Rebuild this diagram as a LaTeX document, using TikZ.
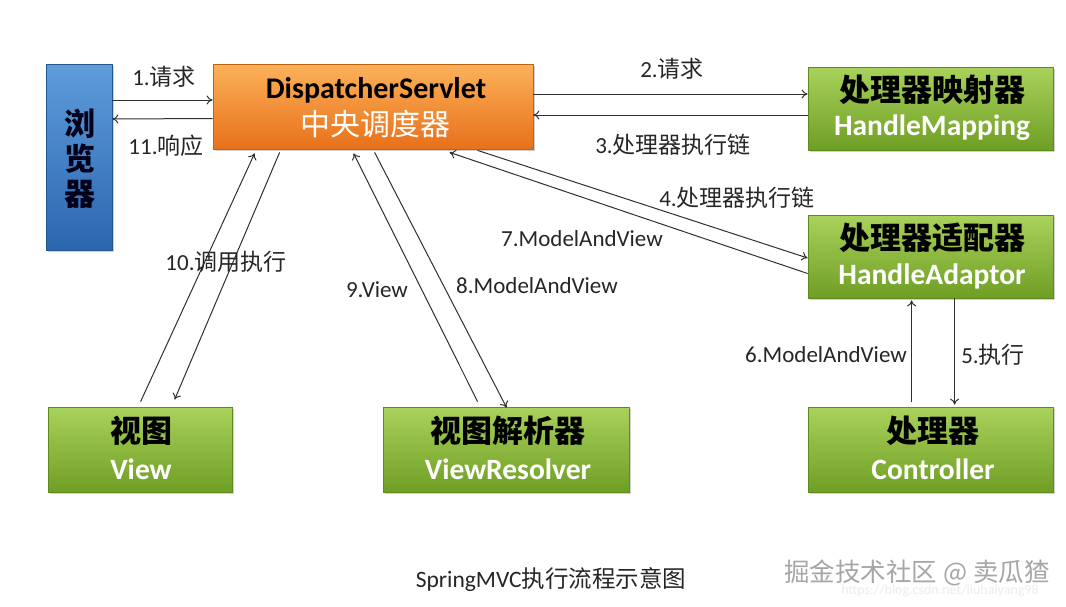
\documentclass[tikz,border=0pt]{standalone}
\usepackage{fontspec}
\setmainfont{Carlito}
\newfontfamily\cjk{Noto Sans CJK SC}
\usetikzlibrary{shadows,calc,arrows.meta}
\definecolor{gtop}{HTML}{A9D25A}
\definecolor{gbot}{HTML}{6F9E24}
\definecolor{gbord}{HTML}{5E8A1E}
\definecolor{otop}{HTML}{FBB25A}
\definecolor{obot}{HTML}{E8701A}
\definecolor{obord}{HTML}{C5600F}
\definecolor{btop}{HTML}{5E9CDB}
\definecolor{bbot}{HTML}{2C66B0}
\definecolor{bbord}{HTML}{23558F}
\definecolor{linec}{HTML}{303030}
\begin{document}
\begin{tikzpicture}[x=1pt,y=-1pt,
  boxbase/.style={rectangle, align=center, inner sep=0pt,
    drop shadow={opacity=0.35, shadow xshift=2pt, shadow yshift=-2pt}},
  greenbox/.style={boxbase, draw=gbord, line width=0.8pt, top color=gtop, bottom color=gbot},
  orangebox/.style={boxbase, draw=obord, line width=0.8pt, top color=otop, bottom color=obot},
  bluebox/.style={boxbase, draw=bbord, line width=0.8pt, top color=btop, bottom color=bbot},
  cn/.style={font=\cjk\bfseries\fontsize{31}{35}\selectfont, text=black},
  en/.style={font=\bfseries\fontsize{29.5}{32}\selectfont, text=white},
  lbl/.style={inner sep=0pt, text=black!85, font=\fontsize{23}{26}\selectfont},
  arr/.style={draw=linec, line width=1pt, -{To[length=6pt,width=9pt]}}
]
\path[fill=white] (0,0) rectangle (1066,606);
\useasboundingbox (0,0) rectangle (1066,606);

% boxes
\node[bluebox, minimum width=66pt, minimum height=186pt] (browser) at (79,157) {};
\node[inner sep=0pt, text=black!90!blue, font=\cjk\bfseries\fontsize{31}{35}\selectfont, align=center] (browsertxt) at (80,159) {浏\\览\\器};

\node[orangebox, minimum width=320pt, minimum height=85pt] (ds) at (373,106.5) {};
\node[inner sep=0pt, font=\bfseries\fontsize{30}{32}\selectfont, text=black] (dst1) at (376,90) {DispatcherServlet};
\node[inner sep=0pt, font=\cjk\fontsize{30}{33}\selectfont, text=white] (dst2) at (375,124) {中央调度器};

\node[greenbox, minimum width=245pt, minimum height=83pt] (hm) at (930.5,108.5) {};
\node[cn, inner sep=0pt] (hmt1) at (932,90) {处理器映射器};
\node[en, inner sep=0pt] (hmt2) at (932,128) {HandleMapping};

\node[greenbox, minimum width=245pt, minimum height=83pt] (ha) at (930.5,256.5) {};
\node[cn, inner sep=0pt] (hat1) at (932,238) {处理器适配器};
\node[en, inner sep=0pt] (hat2) at (932,276) {HandleAdaptor};

\node[greenbox, minimum width=245pt, minimum height=85pt] (ctrl) at (930.5,449.5) {};
\node[cn, inner sep=0pt] (ctrlt1) at (933,431) {处理器};
\node[en, inner sep=0pt] (ctrlt2) at (933,469) {Controller};

\node[greenbox, minimum width=184pt, minimum height=85pt] (view) at (140,449.5) {};
\node[cn, inner sep=0pt] (viewt1) at (141,431) {视图};
\node[en, inner sep=0pt] (viewt2) at (141,469) {View};

\node[greenbox, minimum width=246pt, minimum height=85pt] (vr) at (506,449.5) {};
\node[cn, inner sep=0pt] (vrt1) at (508,431) {视图解析器};
\node[en, inner sep=0pt] (vrt2) at (508,469) {ViewResolver};

% connectors
\draw[arr] ($(browser.east)+(0,-57)$) -- ($(ds.west)+(0,-6.5)$);
\draw[arr] ($(ds.west)+(0,12)$) -- ($(browser.east)+(0,-38)$);
\draw[arr] ($(ds.east)+(0,-12.5)$) -- ($(hm.west)+(0,-14.5)$);
\draw[arr] ($(hm.west)+(0,6.5)$) -- ($(ds.east)+(0,8.5)$);
\draw[arr] ($(ds.south west)+(265,1)$) -- ($(ha.west)+(0,1.5)$);
\draw[arr] ($(ha.west)+(0,17)$) -- ($(ds.south west)+(237,3)$);
\draw[arr] ($(view.north west)+(93,-5)$) -- ($(ds.south west)+(42,4)$);
\draw[arr] ($(ds.south west)+(67,3)$) -- ($(view.north west)+(127,-7)$);
\draw[arr] ($(vr.north west)+(95,-5)$) -- ($(ds.south west)+(141,4)$);
\draw[arr] ($(ds.south west)+(162,3)$) -- ($(vr.north west)+(124,1)$);
\draw[arr] ($(ctrl.north west)+(104,-5)$) -- ($(ha.south west)+(104,2)$);
\draw[arr] ($(ha.south west)+(147,0)$) -- ($(ctrl.north west)+(147,-2)$);

% labels
\node[lbl] (l1) at (164,77) {1.{\cjk 请求}};
\node[lbl] (l11) at (166,146) {11.{\cjk 响应}};
\node[lbl] (l2) at (672,69) {2.{\cjk 请求}};
\node[lbl] (l3) at (673,145) {3.{\cjk 处理器执行链}};
\node[lbl] (l4) at (737,198) {4.{\cjk 处理器执行链}};
\node[lbl] (l7) at (582,239) {7.ModelAndView};
\node[lbl] (l10) at (226,262) {10.{\cjk 调用执行}};
\node[lbl] (l9) at (377,290) {9.View};
\node[lbl] (l8) at (537,286) {8.ModelAndView};
\node[lbl] (l6) at (826,355) {6.ModelAndView};
\node[lbl] (l5) at (993,355) {5.{\cjk 执行}};

\node[inner sep=0pt, text=black!85, font=\fontsize{23.5}{26}\selectfont] (caption) at (551,580) {SpringMVC{\cjk 执行流程示意图}};
\node[inner sep=0pt, text=gray!15, font=\fontsize{14}{16}\selectfont] (url) at (940,591) {https://blog.csdn.net/liuhaiyang98};
\node[inner sep=0pt, text=gray!70, font=\cjk\fontsize{25.5}{29}\selectfont] (wm) at (917,573) {掘金技术社区 @ 卖瓜猹};
\end{tikzpicture}
\end{document}
